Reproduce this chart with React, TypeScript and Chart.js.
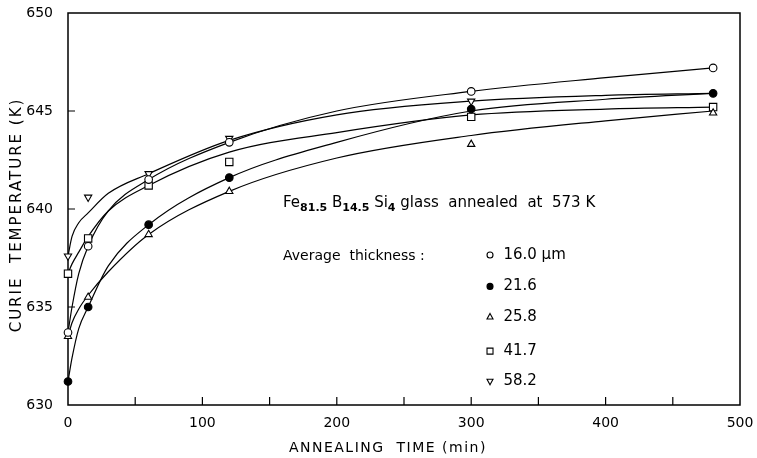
import React, { useEffect, useRef } from 'react';
import { Chart, registerables } from 'chart.js';

Chart.register(...registerables);

// measured points (annealing time in min, Curie temperature in K)
const timeMin = [0, 15, 60, 120, 300, 480];
const time58 = [0, 15, 60, 120, 300];
const t16_0 = [633.7, 638.1, 641.5, 643.4, 646.0, 647.2];
const t21_6 = [631.2, 635.0, 639.2, 641.6, 645.1, 645.9];
const t25_8 = [633.5, 635.5, 638.7, 640.9, 643.3, 644.9];
const t41_7 = [636.7, 638.5, 641.2, 642.4, 644.7, 645.2];
const t58_2 = [637.6, 640.6, 641.8, 643.6, 645.5];

// hand-drawn fitted curves
const curveTime = [0, 3, 8, 15, 30, 60, 120, 200, 300, 400, 480];
const c16_0 = [633.7, 635.0, 636.7, 638.1, 639.9, 641.5, 643.4, 645.0, 646.0, 646.7, 647.2];
const c21_6 = [631.2, 632.4, 633.9, 635.0, 637.1, 639.2, 641.6, 643.4, 645.0, 645.6, 645.9];
const c25_8 = [633.5, 634.2, 634.9, 635.6, 636.8, 638.7, 640.9, 642.6, 643.75, 644.5, 645.0];
const c41_7 = [636.7, 637.2, 637.8, 638.6, 639.9, 641.2, 642.9, 643.9, 644.8, 645.1, 645.2];
const c58_2 = [637.6, 638.6, 639.3, 639.8, 640.8, 641.8, 643.5, 644.8, 645.5, 645.8, 645.9];

const legendLabels = ['16.0 \u03bcm', '21.6', '25.8', '41.7', '58.2'];
const legendStyles = ['open', 'filled', 'triUp', 'square', 'triDown'];
const xLabelTicks = [0, 100, 200, 300, 400, 500];
const xTickMarks = [50, 100, 150, 200, 250, 300, 350, 400, 450];
const yTickMarks = [635, 640, 645];
const xTitle = 'ANNEALING  TIME (min)';
const yTitle = 'CURIE  TEMPERATURE (K)';

const FONT = "'DejaVu Sans', 'Liberation Sans', sans-serif";

function pts(xs: number[], ys: number[]) {
  return xs.map((x, i) => ({ x, y: ys[i] }));
}

function drawSymbol(ctx: CanvasRenderingContext2D, style: string, x: number, y: number, r: number) {
  ctx.save();
  ctx.lineWidth = 1.1;
  ctx.strokeStyle = '#000';
  ctx.fillStyle = '#fff';
  ctx.beginPath();
  if (style === 'open' || style === 'filled') {
    ctx.arc(x, y, r, 0, Math.PI * 2);
    if (style === 'filled') ctx.fillStyle = '#000';
  } else if (style === 'square') {
    ctx.rect(x - r, y - r, 2 * r, 2 * r);
  } else if (style === 'triUp') {
    ctx.moveTo(x, y - r * 1.1);
    ctx.lineTo(x + r, y + r * 0.75);
    ctx.lineTo(x - r, y + r * 0.75);
    ctx.closePath();
  } else {
    ctx.moveTo(x, y + r * 1.1);
    ctx.lineTo(x + r, y - r * 0.75);
    ctx.lineTo(x - r, y - r * 0.75);
    ctx.closePath();
  }
  ctx.fill();
  ctx.stroke();
  ctx.restore();
}

const annot = {
  id: 'annot',
  beforeDatasetsDraw(chart: any) {
    const { ctx, chartArea: a, scales } = chart;
    ctx.save();
    ctx.strokeStyle = '#000';
    ctx.lineWidth = 1.5;
    ctx.strokeRect(a.left, a.top, a.right - a.left, a.bottom - a.top);
    ctx.lineWidth = 1.2;
    ctx.beginPath();
    xTickMarks.forEach((v) => {
      const px = scales.x.getPixelForValue(v);
      ctx.moveTo(px, a.bottom);
      ctx.lineTo(px, a.bottom - 8);
    });
    yTickMarks.forEach((v) => {
      const py = scales.y.getPixelForValue(v);
      ctx.moveTo(a.left, py);
      ctx.lineTo(a.left + 7, py);
    });
    ctx.stroke();

    // axis titles (letter-spaced)
    ctx.fillStyle = '#000';
    ctx.textAlign = 'center';
    ctx.textBaseline = 'middle';
    try { (ctx as any).letterSpacing = '1.5px'; } catch (e) { /* ignore */ }
    ctx.font = `14px ${FONT}`;
    ctx.fillText(xTitle, scales.x.getPixelForValue(238), a.bottom + 43);
    try { (ctx as any).letterSpacing = '2px'; } catch (e) { /* ignore */ }
    ctx.font = `15px ${FONT}`;
    ctx.translate(a.left - 51, (a.top + a.bottom) / 2 + 6);
    ctx.rotate(-Math.PI / 2);
    ctx.fillText(yTitle, 0, 0);
    ctx.restore();
  },
  afterDatasetsDraw(chart: any) {
    const { ctx, scales } = chart;
    const X = (v: number) => scales.x.getPixelForValue(v);
    const Y = (v: number) => scales.y.getPixelForValue(v);
    ctx.save();
    ctx.fillStyle = '#000';
    ctx.textBaseline = 'middle';
    ctx.textAlign = 'left';
    const segs = [
      { t: 'Fe', s: false },
      { t: '81.5', s: true },
      { t: ' B', s: false },
      { t: '14.5', s: true },
      { t: ' Si', s: false },
      { t: '4', s: true },
      { t: ' glass  annealed  at  573 K', s: false },
    ];
    let x = X(160);
    const y0 = Y(640.3);
    segs.forEach((sg) => {
      ctx.font = sg.s ? `bold 11px ${FONT}` : `15px ${FONT}`;
      ctx.fillText(sg.t, x, sg.s ? y0 + 5 : y0);
      x += ctx.measureText(sg.t).width;
    });
    ctx.font = `14px ${FONT}`;
    ctx.fillText('Average  thickness :', X(160), Y(637.6));
    const rows = [637.65, 636.05, 634.5, 632.75, 631.2];
    rows.forEach((rv, i) => {
      drawSymbol(ctx, legendStyles[i], X(314), Y(rv), 3);
      ctx.font = `15px ${FONT}`;
      ctx.fillText(legendLabels[i], X(324), Y(rv));
    });
    ctx.restore();
  },
};

function markerSet(label: string, xs: number[], ys: number[], style: string, bg: string, rot: number, r: number) {
  return {
    label,
    data: pts(xs, ys),
    showLine: false,
    pointStyle: style,
    pointRotation: rot,
    pointRadius: r,
    pointBackgroundColor: bg,
    pointBorderColor: '#000',
    pointBorderWidth: 1.1,
    order: 0,
    clip: false,
  };
}

function curveSet(label: string, ys: number[]) {
  return {
    label,
    data: pts(curveTime, ys),
    showLine: true,
    borderColor: '#000',
    borderWidth: 1.2,
    pointRadius: 0,
    cubicInterpolationMode: 'monotone',
    fill: false,
    order: 1,
  };
}

export default function App() {
  const ref = useRef<HTMLCanvasElement>(null);
  useEffect(() => {
    if (!ref.current) return;
    const chart = new Chart(ref.current, {
      type: 'scatter',
      data: {
        datasets: [
          markerSet('16.0', timeMin, t16_0, 'circle', '#fff', 0, 3.8),
          markerSet('21.6', timeMin, t21_6, 'circle', '#000', 0, 3.8),
          markerSet('25.8', timeMin, t25_8, 'triangle', '#fff', 0, 4.2),
          markerSet('41.7', timeMin, t41_7, 'rect', '#fff', 0, 5.2),
          markerSet('58.2', time58, t58_2, 'triangle', '#fff', 180, 4.2),
          curveSet('c16.0', c16_0),
          curveSet('c21.6', c21_6),
          curveSet('c25.8', c25_8),
          curveSet('c41.7', c41_7),
          curveSet('c58.2', c58_2),
        ] as any,
      },
      options: {
        responsive: false,
        animation: false,
        layout: { padding: { left: 0, right: 17, top: 13, bottom: 0 } },
        plugins: { legend: { display: false }, tooltip: { enabled: false } },
        scales: {
          x: {
            type: 'linear',
            min: 0,
            max: 500,
            afterFit: (s: any) => { s.height = 53; s.paddingLeft = 0; s.paddingRight = 0; },
            afterBuildTicks: (s: any) => { s.ticks = xLabelTicks.map((v) => ({ value: v })); },
            grid: { display: false },
            border: { display: false },
            ticks: { color: '#000', font: { family: FONT, size: 14 }, padding: 2, maxRotation: 0 },
            title: { display: false },
          },
          y: {
            type: 'linear',
            min: 630,
            max: 650,
            afterFit: (s: any) => { s.width = 68; s.paddingTop = 0; s.paddingBottom = 0; },
            grid: { display: false },
            border: { display: false },
            ticks: { color: '#000', font: { family: FONT, size: 14 }, padding: 7, stepSize: 5 },
            title: { display: false },
          },
        },
      } as any,
      plugins: [annot],
    });
    return () => chart.destroy();
  }, []);
  return (
    <div style={{ position: 'fixed', left: 0, top: 0, width: 757, height: 458, background: '#fff' }}>
      <canvas ref={ref} width={757} height={458} style={{ display: 'block' }} />
    </div>
  );
}
